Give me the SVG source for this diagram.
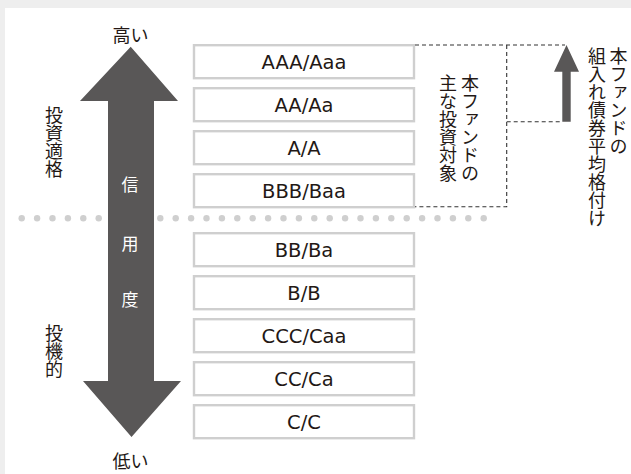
<svg xmlns="http://www.w3.org/2000/svg" width="631" height="474" viewBox="0 0 631 474">
<style>
.jp{font-family:"Noto Sans CJK JP","Noto Sans",sans-serif;fill:#231815}
.v{writing-mode:vertical-rl;font-size:18px}
.box rect{fill:#fff;stroke:#cfcfcf;stroke-width:2.4}
.box text{font-family:"DejaVu Sans","Noto Sans",sans-serif;font-size:19.5px;fill:#231815;text-anchor:middle}
.dash{fill:none;stroke:#333;stroke-width:1.1;stroke-dasharray:4 3}
.dot{fill:#cfcfcf}
.arrow{fill:#595757}
.wt{font-family:"Noto Sans CJK JP",sans-serif;font-size:17px;fill:#fff;text-anchor:middle}
</style>
<rect x="0" y="0" width="631" height="474" fill="#eeeeee"/>
<rect x="5" y="8" width="626" height="466" fill="#ffffff"/>
<g id="dotted-line">
<circle class="dot" cx="21.7" cy="218.3" r="3.2"/><circle class="dot" cx="37.1" cy="218.3" r="3.2"/><circle class="dot" cx="52.5" cy="218.3" r="3.2"/><circle class="dot" cx="67.9" cy="218.3" r="3.2"/><circle class="dot" cx="83.3" cy="218.3" r="3.2"/><circle class="dot" cx="98.7" cy="218.3" r="3.2"/>
<circle class="dot" cx="160.3" cy="218.3" r="3.2"/><circle class="dot" cx="175.7" cy="218.3" r="3.2"/><circle class="dot" cx="191.1" cy="218.3" r="3.2"/><circle class="dot" cx="206.5" cy="218.3" r="3.2"/><circle class="dot" cx="221.9" cy="218.3" r="3.2"/><circle class="dot" cx="237.3" cy="218.3" r="3.2"/><circle class="dot" cx="252.7" cy="218.3" r="3.2"/><circle class="dot" cx="268.1" cy="218.3" r="3.2"/><circle class="dot" cx="283.5" cy="218.3" r="3.2"/><circle class="dot" cx="298.9" cy="218.3" r="3.2"/><circle class="dot" cx="314.3" cy="218.3" r="3.2"/><circle class="dot" cx="329.7" cy="218.3" r="3.2"/><circle class="dot" cx="345.1" cy="218.3" r="3.2"/><circle class="dot" cx="360.5" cy="218.3" r="3.2"/><circle class="dot" cx="375.9" cy="218.3" r="3.2"/><circle class="dot" cx="391.3" cy="218.3" r="3.2"/><circle class="dot" cx="406.7" cy="218.3" r="3.2"/><circle class="dot" cx="422.1" cy="218.3" r="3.2"/><circle class="dot" cx="437.5" cy="218.3" r="3.2"/><circle class="dot" cx="452.9" cy="218.3" r="3.2"/><circle class="dot" cx="468.3" cy="218.3" r="3.2"/><circle class="dot" cx="483.7" cy="218.3" r="3.2"/>
</g>
<g id="credit-arrow">
<path class="arrow" d="M130.7,46.7 L178,101 L154,101 L154,381 L181,381 L131.5,437 L83,381 L108,381 L108,101 L80,101 Z"/>
<text class="wt" x="130" y="191">信</text>
<text class="wt" x="130" y="250">用</text>
<text class="wt" x="130" y="306">度</text>
</g>
<g id="label-high"><text class="jp" x="130.5" y="42" font-size="18" text-anchor="middle">高い</text></g>
<g id="label-low"><text class="jp" x="130.5" y="468" font-size="18" text-anchor="middle">低い</text></g>
<g id="label-investment-grade"><text class="jp v" x="54" y="106">投資適格</text></g>
<g id="label-speculative"><text class="jp v" x="54" y="324">投機的</text></g>
<g id="r-aaa" class="box"><rect x="194" y="45.2" width="220" height="33"/><text x="304" y="69">AAA/Aaa</text></g>
<g id="r-aa" class="box"><rect x="194" y="88.2" width="220" height="33"/><text x="304" y="112">AA/Aa</text></g>
<g id="r-a" class="box"><rect x="194" y="131.2" width="220" height="33"/><text x="304" y="155">A/A</text></g>
<g id="r-bbb" class="box"><rect x="194" y="174.2" width="220" height="33"/><text x="304" y="198">BBB/Baa</text></g>
<g id="r-bb" class="box"><rect x="194" y="233.2" width="220" height="33"/><text x="304" y="257">BB/Ba</text></g>
<g id="r-b" class="box"><rect x="194" y="276.2" width="220" height="33"/><text x="304" y="300">B/B</text></g>
<g id="r-ccc" class="box"><rect x="194" y="319.2" width="220" height="33"/><text x="304" y="343">CCC/Caa</text></g>
<g id="r-cc" class="box"><rect x="194" y="362.2" width="220" height="33"/><text x="304" y="386">CC/Ca</text></g>
<g id="r-c" class="box"><rect x="194" y="405.2" width="220" height="33"/><text x="304" y="429">C/C</text></g>
<g id="connectors">
<path class="dash" d="M415,45 H565 M506.7,45 V206.7 H415 M506.7,121.7 H562"/>
</g>
<g id="main-target-label">
<text class="jp v" x="470" y="74">本ファンドの</text>
<text class="jp v" x="448" y="74">主な投資対象</text>
</g>
<g id="avg-rating">
<path class="arrow" d="M566.5,45 L579,71.7 L570.7,71.7 L570.7,121.7 L562.3,121.7 L562.3,71.7 L554,71.7 Z"/>
<text class="jp v" x="618.5" y="47">本ファンドの</text>
<text class="jp v" x="597" y="47">組入れ債券平均格付け</text>
</g>
</svg>
